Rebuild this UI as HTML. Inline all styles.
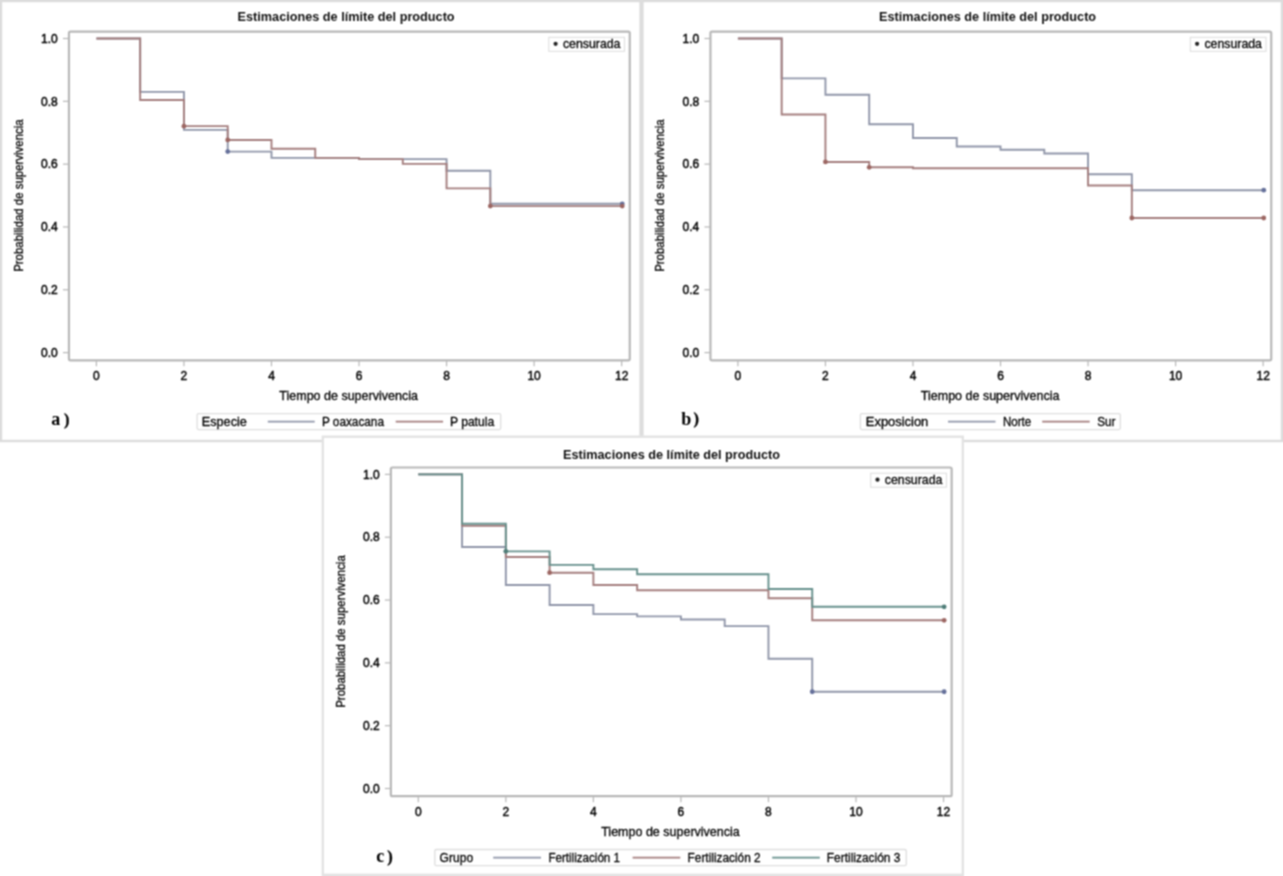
<!DOCTYPE html>
<html><head><meta charset="utf-8"><title>Estimaciones de limite del producto</title>
<style>
html,body{margin:0;padding:0;background:#fff;}
body{width:1283px;height:876px;overflow:hidden;}
svg{display:block;font-family:"Liberation Sans", sans-serif;}
.n{stroke:#000;stroke-width:0.3px;}
.t{stroke:#000;stroke-width:0.45px;}
</style></head><body>
<svg width="1283" height="876" viewBox="0 0 1283 876">
<defs><filter id="bl" x="0" y="0" width="1283" height="876" filterUnits="userSpaceOnUse" color-interpolation-filters="sRGB"><feConvolveMatrix order="3" kernelMatrix="1 2 1 2 4 2 1 2 1" edgeMode="duplicate" preserveAlpha="true"/></filter></defs>
<g filter="url(#bl)">
<rect width="1283" height="876" fill="#fff"/>
<rect x="1" y="1" width="639.6" height="440" fill="#fff" stroke="#dcdcdc" stroke-width="2.4"/>
<text x="237.6" y="20.9" font-size="12.8" font-weight="bold" textLength="217.0" lengthAdjust="spacingAndGlyphs" fill="#111">Estimaciones de límite del producto</text>
<rect x="68.95" y="31.6" width="560.8" height="328.7" rx="1.5" fill="none" stroke="#b8b8b8" stroke-width="2.2"/>
<line x1="62.95" y1="352.6" x2="68.95" y2="352.6" stroke="#b8b8b8" stroke-width="1.2"/>
<text x="57.8" y="356.8" font-size="12.0" font-weight="normal" text-anchor="end" class="t" fill="#000">0.0</text>
<line x1="62.95" y1="289.78" x2="68.95" y2="289.78" stroke="#b8b8b8" stroke-width="1.2"/>
<text x="57.8" y="293.98" font-size="12.0" font-weight="normal" text-anchor="end" class="t" fill="#000">0.2</text>
<line x1="62.95" y1="226.96" x2="68.95" y2="226.96" stroke="#b8b8b8" stroke-width="1.2"/>
<text x="57.8" y="231.16" font-size="12.0" font-weight="normal" text-anchor="end" class="t" fill="#000">0.4</text>
<line x1="62.95" y1="164.14" x2="68.95" y2="164.14" stroke="#b8b8b8" stroke-width="1.2"/>
<text x="57.8" y="168.34" font-size="12.0" font-weight="normal" text-anchor="end" class="t" fill="#000">0.6</text>
<line x1="62.95" y1="101.32" x2="68.95" y2="101.32" stroke="#b8b8b8" stroke-width="1.2"/>
<text x="57.8" y="105.52" font-size="12.0" font-weight="normal" text-anchor="end" class="t" fill="#000">0.8</text>
<line x1="62.95" y1="38.5" x2="68.95" y2="38.5" stroke="#b8b8b8" stroke-width="1.2"/>
<text x="57.8" y="42.7" font-size="12.0" font-weight="normal" text-anchor="end" class="t" fill="#000">1.0</text>
<line x1="96.4" y1="360.3" x2="96.4" y2="366.3" stroke="#b8b8b8" stroke-width="1.2"/>
<text x="96.4" y="379.6" font-size="12.0" font-weight="normal" text-anchor="middle" class="t" fill="#000">0</text>
<line x1="183.94" y1="360.3" x2="183.94" y2="366.3" stroke="#b8b8b8" stroke-width="1.2"/>
<text x="183.94" y="379.6" font-size="12.0" font-weight="normal" text-anchor="middle" class="t" fill="#000">2</text>
<line x1="271.48" y1="360.3" x2="271.48" y2="366.3" stroke="#b8b8b8" stroke-width="1.2"/>
<text x="271.48" y="379.6" font-size="12.0" font-weight="normal" text-anchor="middle" class="t" fill="#000">4</text>
<line x1="359.02" y1="360.3" x2="359.02" y2="366.3" stroke="#b8b8b8" stroke-width="1.2"/>
<text x="359.02" y="379.6" font-size="12.0" font-weight="normal" text-anchor="middle" class="t" fill="#000">6</text>
<line x1="446.56" y1="360.3" x2="446.56" y2="366.3" stroke="#b8b8b8" stroke-width="1.2"/>
<text x="446.56" y="379.6" font-size="12.0" font-weight="normal" text-anchor="middle" class="t" fill="#000">8</text>
<line x1="534.1" y1="360.3" x2="534.1" y2="366.3" stroke="#b8b8b8" stroke-width="1.2"/>
<text x="534.1" y="379.6" font-size="12.0" font-weight="normal" text-anchor="middle" class="t" fill="#000">10</text>
<line x1="621.64" y1="360.3" x2="621.64" y2="366.3" stroke="#b8b8b8" stroke-width="1.2"/>
<text x="621.64" y="379.6" font-size="12.0" font-weight="normal" text-anchor="middle" class="t" fill="#000">12</text>
<text x="279.3" y="399.6" font-size="12.6" textLength="138.6" lengthAdjust="spacingAndGlyphs" class="n" fill="#000">Tiempo de supervivencia</text>
<text x="0" y="0" font-size="12.6" textLength="152.5" lengthAdjust="spacingAndGlyphs" text-anchor="middle" class="n" fill="#000" transform="translate(22.6 195.6) rotate(-90)">Probabilidad de supervivencia</text>
<path d="M96.4 38.5H140.17V91.9H183.94V129.9H227.71V151.58H271.48V157.86H315.25V157.86H359.02V159.11H402.79V159.11H446.56V170.74H490.33V203.81H534.1V203.81H577.87V203.81H621.64" fill="none" stroke="#9096a9" stroke-width="1.9"/>
<path d="M96.4 38.5H140.17V100.06H183.94V126.13H227.71V139.95H271.48V148.75H315.25V157.86H359.02V159.11H402.79V163.83H446.56V188.33H490.33V206.1H534.1V206.1H577.87V206.1H621.64" fill="none" stroke="#a47e7e" stroke-width="1.9"/>
<circle cx="183.94" cy="126.13" r="2.4" fill="#9c6662"/>
<circle cx="227.71" cy="139.95" r="2.4" fill="#9c6662"/>
<circle cx="227.71" cy="151.58" r="2.4" fill="#65709a"/>
<circle cx="490.33" cy="206.1" r="2.4" fill="#9c6662"/>
<circle cx="622.24" cy="203.81" r="2.4" fill="#65709a"/>
<circle cx="622.24" cy="206.1" r="2.4" fill="#9c6662"/>
<rect x="548.8" y="37.3" width="75.7" height="14" fill="#fff" stroke="#dcdcdc" stroke-width="1"/>
<circle cx="555.6" cy="43.8" r="2.1" fill="#222"/>
<text x="562.9" y="47.6" font-size="12.4" textLength="57.6" lengthAdjust="spacingAndGlyphs" class="n" fill="#000">censurada</text>
<rect x="197.1" y="413.6" width="303.6" height="16" rx="1.5" fill="#fff" stroke="#dedede" stroke-width="1.3"/>
<text x="201.7" y="425.6" font-size="12.5" textLength="45.2" lengthAdjust="spacingAndGlyphs" class="n" fill="#000">Especie</text>
<line x1="267.8" y1="421.6" x2="314.7" y2="421.6" stroke="#9096a9" stroke-width="1.9"/>
<text x="321.9" y="425.6" font-size="12.5" textLength="62.1" lengthAdjust="spacingAndGlyphs" class="n" fill="#000">P oaxacana</text>
<line x1="395.7" y1="421.6" x2="443.1" y2="421.6" stroke="#a47e7e" stroke-width="1.9"/>
<text x="449.9" y="425.6" font-size="12.5" textLength="44.3" lengthAdjust="spacingAndGlyphs" class="n" fill="#000">P patula</text>
<text x="51.3" y="425.2" font-size="18.0" font-weight="bold" font-family="Liberation Serif, serif" fill="#000">a</text>
<text x="63.9" y="424.6" font-size="16.5" font-weight="bold" font-family="Liberation Serif, serif" stroke="#000" stroke-width="0.3" fill="#000">)</text>
<rect x="642.4" y="1" width="639.6" height="440" fill="#fff" stroke="#dcdcdc" stroke-width="2.4"/>
<text x="879.1" y="20.9" font-size="12.8" font-weight="bold" textLength="217.0" lengthAdjust="spacingAndGlyphs" fill="#111">Estimaciones de límite del producto</text>
<rect x="710.45" y="31.6" width="560.8" height="328.7" rx="1.5" fill="none" stroke="#b8b8b8" stroke-width="2.2"/>
<line x1="704.45" y1="352.6" x2="710.45" y2="352.6" stroke="#b8b8b8" stroke-width="1.2"/>
<text x="699.3" y="356.8" font-size="12.0" font-weight="normal" text-anchor="end" class="t" fill="#000">0.0</text>
<line x1="704.45" y1="289.78" x2="710.45" y2="289.78" stroke="#b8b8b8" stroke-width="1.2"/>
<text x="699.3" y="293.98" font-size="12.0" font-weight="normal" text-anchor="end" class="t" fill="#000">0.2</text>
<line x1="704.45" y1="226.96" x2="710.45" y2="226.96" stroke="#b8b8b8" stroke-width="1.2"/>
<text x="699.3" y="231.16" font-size="12.0" font-weight="normal" text-anchor="end" class="t" fill="#000">0.4</text>
<line x1="704.45" y1="164.14" x2="710.45" y2="164.14" stroke="#b8b8b8" stroke-width="1.2"/>
<text x="699.3" y="168.34" font-size="12.0" font-weight="normal" text-anchor="end" class="t" fill="#000">0.6</text>
<line x1="704.45" y1="101.32" x2="710.45" y2="101.32" stroke="#b8b8b8" stroke-width="1.2"/>
<text x="699.3" y="105.52" font-size="12.0" font-weight="normal" text-anchor="end" class="t" fill="#000">0.8</text>
<line x1="704.45" y1="38.5" x2="710.45" y2="38.5" stroke="#b8b8b8" stroke-width="1.2"/>
<text x="699.3" y="42.7" font-size="12.0" font-weight="normal" text-anchor="end" class="t" fill="#000">1.0</text>
<line x1="737.9" y1="360.3" x2="737.9" y2="366.3" stroke="#b8b8b8" stroke-width="1.2"/>
<text x="737.9" y="379.6" font-size="12.0" font-weight="normal" text-anchor="middle" class="t" fill="#000">0</text>
<line x1="825.44" y1="360.3" x2="825.44" y2="366.3" stroke="#b8b8b8" stroke-width="1.2"/>
<text x="825.44" y="379.6" font-size="12.0" font-weight="normal" text-anchor="middle" class="t" fill="#000">2</text>
<line x1="912.98" y1="360.3" x2="912.98" y2="366.3" stroke="#b8b8b8" stroke-width="1.2"/>
<text x="912.98" y="379.6" font-size="12.0" font-weight="normal" text-anchor="middle" class="t" fill="#000">4</text>
<line x1="1000.52" y1="360.3" x2="1000.52" y2="366.3" stroke="#b8b8b8" stroke-width="1.2"/>
<text x="1000.52" y="379.6" font-size="12.0" font-weight="normal" text-anchor="middle" class="t" fill="#000">6</text>
<line x1="1088.06" y1="360.3" x2="1088.06" y2="366.3" stroke="#b8b8b8" stroke-width="1.2"/>
<text x="1088.06" y="379.6" font-size="12.0" font-weight="normal" text-anchor="middle" class="t" fill="#000">8</text>
<line x1="1175.6" y1="360.3" x2="1175.6" y2="366.3" stroke="#b8b8b8" stroke-width="1.2"/>
<text x="1175.6" y="379.6" font-size="12.0" font-weight="normal" text-anchor="middle" class="t" fill="#000">10</text>
<line x1="1263.14" y1="360.3" x2="1263.14" y2="366.3" stroke="#b8b8b8" stroke-width="1.2"/>
<text x="1263.14" y="379.6" font-size="12.0" font-weight="normal" text-anchor="middle" class="t" fill="#000">12</text>
<text x="920.8" y="399.6" font-size="12.6" textLength="138.6" lengthAdjust="spacingAndGlyphs" class="n" fill="#000">Tiempo de supervivencia</text>
<text x="0" y="0" font-size="12.6" textLength="152.5" lengthAdjust="spacingAndGlyphs" text-anchor="middle" class="n" fill="#000" transform="translate(664.1 195.6) rotate(-90)">Probabilidad de supervivencia</text>
<path d="M737.9 38.5H781.67V78.39H825.44V94.72H869.21V124.25H912.98V138.07H956.75V146.55H1000.52V149.69H1044.29V153.46H1088.06V174.19H1131.83V190.21H1175.6V190.21H1219.37V190.21H1263.14" fill="none" stroke="#9096a9" stroke-width="1.9"/>
<path d="M737.9 38.5H781.67V114.51H825.44V161.94H869.21V167.28H912.98V168.22H956.75V168.22H1000.52V168.22H1044.29V168.22H1088.06V185.5H1131.83V218.01H1175.6V218.01H1219.37V218.01H1263.14" fill="none" stroke="#a47e7e" stroke-width="1.9"/>
<circle cx="825.44" cy="161.94" r="2.4" fill="#9c6662"/>
<circle cx="869.21" cy="167.28" r="2.4" fill="#9c6662"/>
<circle cx="1131.83" cy="218.01" r="2.4" fill="#9c6662"/>
<circle cx="1263.74" cy="190.21" r="2.4" fill="#65709a"/>
<circle cx="1263.74" cy="218.01" r="2.4" fill="#9c6662"/>
<rect x="1190.3" y="37.3" width="75.7" height="14" fill="#fff" stroke="#dcdcdc" stroke-width="1"/>
<circle cx="1197.1" cy="43.8" r="2.1" fill="#222"/>
<text x="1204.4" y="47.6" font-size="12.4" textLength="57.6" lengthAdjust="spacingAndGlyphs" class="n" fill="#000">censurada</text>
<rect x="860.4" y="413.6" width="259.9" height="16" rx="1.5" fill="#fff" stroke="#dedede" stroke-width="1.3"/>
<text x="865.8" y="425.6" font-size="12.5" textLength="62.5" lengthAdjust="spacingAndGlyphs" class="n" fill="#000">Exposicion</text>
<line x1="948" y1="421.6" x2="995.5" y2="421.6" stroke="#9096a9" stroke-width="1.9"/>
<text x="1003" y="425.6" font-size="12.5" textLength="28.2" lengthAdjust="spacingAndGlyphs" class="n" fill="#000">Norte</text>
<line x1="1042.2" y1="421.6" x2="1089.7" y2="421.6" stroke="#a47e7e" stroke-width="1.9"/>
<text x="1097.2" y="425.6" font-size="12.5" textLength="18.2" lengthAdjust="spacingAndGlyphs" class="n" fill="#000">Sur</text>
<text x="681.2" y="424.9" font-size="18.0" font-weight="bold" font-family="Liberation Serif, serif" fill="#000">b</text>
<text x="693.4" y="424.3" font-size="16.5" font-weight="bold" font-family="Liberation Serif, serif" stroke="#000" stroke-width="0.3" fill="#000">)</text>
<rect x="322.8" y="436.7" width="640" height="438.1" fill="#fff" stroke="#e3e3e3" stroke-width="2.4"/>
<text x="563" y="458.9" font-size="12.8" font-weight="bold" textLength="217.0" lengthAdjust="spacingAndGlyphs" fill="#111">Estimaciones de límite del producto</text>
<rect x="390.85" y="467.5" width="560.8" height="328.7" rx="1.5" fill="none" stroke="#b8b8b8" stroke-width="2.2"/>
<line x1="384.85" y1="788.5" x2="390.85" y2="788.5" stroke="#b8b8b8" stroke-width="1.2"/>
<text x="379.7" y="792.7" font-size="12.0" font-weight="normal" text-anchor="end" class="t" fill="#000">0.0</text>
<line x1="384.85" y1="725.68" x2="390.85" y2="725.68" stroke="#b8b8b8" stroke-width="1.2"/>
<text x="379.7" y="729.88" font-size="12.0" font-weight="normal" text-anchor="end" class="t" fill="#000">0.2</text>
<line x1="384.85" y1="662.86" x2="390.85" y2="662.86" stroke="#b8b8b8" stroke-width="1.2"/>
<text x="379.7" y="667.06" font-size="12.0" font-weight="normal" text-anchor="end" class="t" fill="#000">0.4</text>
<line x1="384.85" y1="600.04" x2="390.85" y2="600.04" stroke="#b8b8b8" stroke-width="1.2"/>
<text x="379.7" y="604.24" font-size="12.0" font-weight="normal" text-anchor="end" class="t" fill="#000">0.6</text>
<line x1="384.85" y1="537.22" x2="390.85" y2="537.22" stroke="#b8b8b8" stroke-width="1.2"/>
<text x="379.7" y="541.42" font-size="12.0" font-weight="normal" text-anchor="end" class="t" fill="#000">0.8</text>
<line x1="384.85" y1="474.4" x2="390.85" y2="474.4" stroke="#b8b8b8" stroke-width="1.2"/>
<text x="379.7" y="478.6" font-size="12.0" font-weight="normal" text-anchor="end" class="t" fill="#000">1.0</text>
<line x1="418.3" y1="796.2" x2="418.3" y2="802.2" stroke="#b8b8b8" stroke-width="1.2"/>
<text x="418.3" y="815.5" font-size="12.0" font-weight="normal" text-anchor="middle" class="t" fill="#000">0</text>
<line x1="505.84" y1="796.2" x2="505.84" y2="802.2" stroke="#b8b8b8" stroke-width="1.2"/>
<text x="505.84" y="815.5" font-size="12.0" font-weight="normal" text-anchor="middle" class="t" fill="#000">2</text>
<line x1="593.38" y1="796.2" x2="593.38" y2="802.2" stroke="#b8b8b8" stroke-width="1.2"/>
<text x="593.38" y="815.5" font-size="12.0" font-weight="normal" text-anchor="middle" class="t" fill="#000">4</text>
<line x1="680.92" y1="796.2" x2="680.92" y2="802.2" stroke="#b8b8b8" stroke-width="1.2"/>
<text x="680.92" y="815.5" font-size="12.0" font-weight="normal" text-anchor="middle" class="t" fill="#000">6</text>
<line x1="768.46" y1="796.2" x2="768.46" y2="802.2" stroke="#b8b8b8" stroke-width="1.2"/>
<text x="768.46" y="815.5" font-size="12.0" font-weight="normal" text-anchor="middle" class="t" fill="#000">8</text>
<line x1="856" y1="796.2" x2="856" y2="802.2" stroke="#b8b8b8" stroke-width="1.2"/>
<text x="856" y="815.5" font-size="12.0" font-weight="normal" text-anchor="middle" class="t" fill="#000">10</text>
<line x1="943.54" y1="796.2" x2="943.54" y2="802.2" stroke="#b8b8b8" stroke-width="1.2"/>
<text x="943.54" y="815.5" font-size="12.0" font-weight="normal" text-anchor="middle" class="t" fill="#000">12</text>
<text x="601.2" y="835.5" font-size="12.6" textLength="138.6" lengthAdjust="spacingAndGlyphs" class="n" fill="#000">Tiempo de supervivencia</text>
<text x="0" y="0" font-size="12.6" textLength="152.5" lengthAdjust="spacingAndGlyphs" text-anchor="middle" class="n" fill="#000" transform="translate(344.5 631.5) rotate(-90)">Probabilidad de supervivencia</text>
<path d="M418.3 474.4H462.07V546.96H505.84V584.96H549.61V605.07H593.38V614.17H637.15V616.37H680.92V619.51H724.69V626.11H768.46V658.78H812.23V691.76H856V691.76H899.77V691.76H943.54" fill="none" stroke="#9096a9" stroke-width="1.9"/>
<path d="M418.3 474.4H462.07V525.91H505.84V557.01H549.61V572.71H593.38V584.96H637.15V590.3H680.92V590.3H724.69V590.3H768.46V598.31H812.23V620.3H856V620.3H899.77V620.3H943.54" fill="none" stroke="#a47e7e" stroke-width="1.9"/>
<path d="M418.3 474.4H462.07V523.71H505.84V551.35H549.61V564.86H593.38V569.26H637.15V574.28H680.92V574.28H724.69V574.28H768.46V589.05H812.23V606.79H856V606.79H899.77V606.79H943.54" fill="none" stroke="#66908c" stroke-width="1.9"/>
<circle cx="505.84" cy="551.35" r="2.4" fill="#4f7d78"/>
<circle cx="549.61" cy="572.71" r="2.4" fill="#9c6662"/>
<circle cx="812.23" cy="691.76" r="2.4" fill="#65709a"/>
<circle cx="944.14" cy="691.76" r="2.4" fill="#65709a"/>
<circle cx="944.14" cy="620.3" r="2.4" fill="#9c6662"/>
<circle cx="944.14" cy="606.79" r="2.4" fill="#4f7d78"/>
<rect x="870.7" y="473.2" width="75.7" height="14" fill="#fff" stroke="#dcdcdc" stroke-width="1"/>
<circle cx="877.5" cy="479.7" r="2.1" fill="#222"/>
<text x="884.8" y="483.5" font-size="12.4" textLength="57.6" lengthAdjust="spacingAndGlyphs" class="n" fill="#000">censurada</text>
<rect x="434.8" y="849.5" width="471.5" height="16.2" rx="1.5" fill="#fff" stroke="#dedede" stroke-width="1.3"/>
<text x="439.6" y="861.6" font-size="12.5" textLength="33.5" lengthAdjust="spacingAndGlyphs" class="n" fill="#000">Grupo</text>
<line x1="493.2" y1="857.6" x2="541" y2="857.6" stroke="#9096a9" stroke-width="1.9"/>
<text x="548.4" y="861.6" font-size="12.5" textLength="71.6" lengthAdjust="spacingAndGlyphs" class="n" fill="#000">Fertilización 1</text>
<line x1="632.6" y1="857.6" x2="680.3" y2="857.6" stroke="#a47e7e" stroke-width="1.9"/>
<text x="687.6" y="861.6" font-size="12.5" textLength="73" lengthAdjust="spacingAndGlyphs" class="n" fill="#000">Fertilización 2</text>
<line x1="772.2" y1="857.6" x2="819.8" y2="857.6" stroke="#66908c" stroke-width="1.9"/>
<text x="826.8" y="861.6" font-size="12.5" textLength="73.6" lengthAdjust="spacingAndGlyphs" class="n" fill="#000">Fertilización 3</text>
<text x="376.3" y="862.1" font-size="18.0" font-weight="bold" font-family="Liberation Serif, serif" fill="#000">c</text>
<text x="387.2" y="861.5" font-size="16.5" font-weight="bold" font-family="Liberation Serif, serif" stroke="#000" stroke-width="0.3" fill="#000">)</text>
</g>
</svg>
</body></html>
